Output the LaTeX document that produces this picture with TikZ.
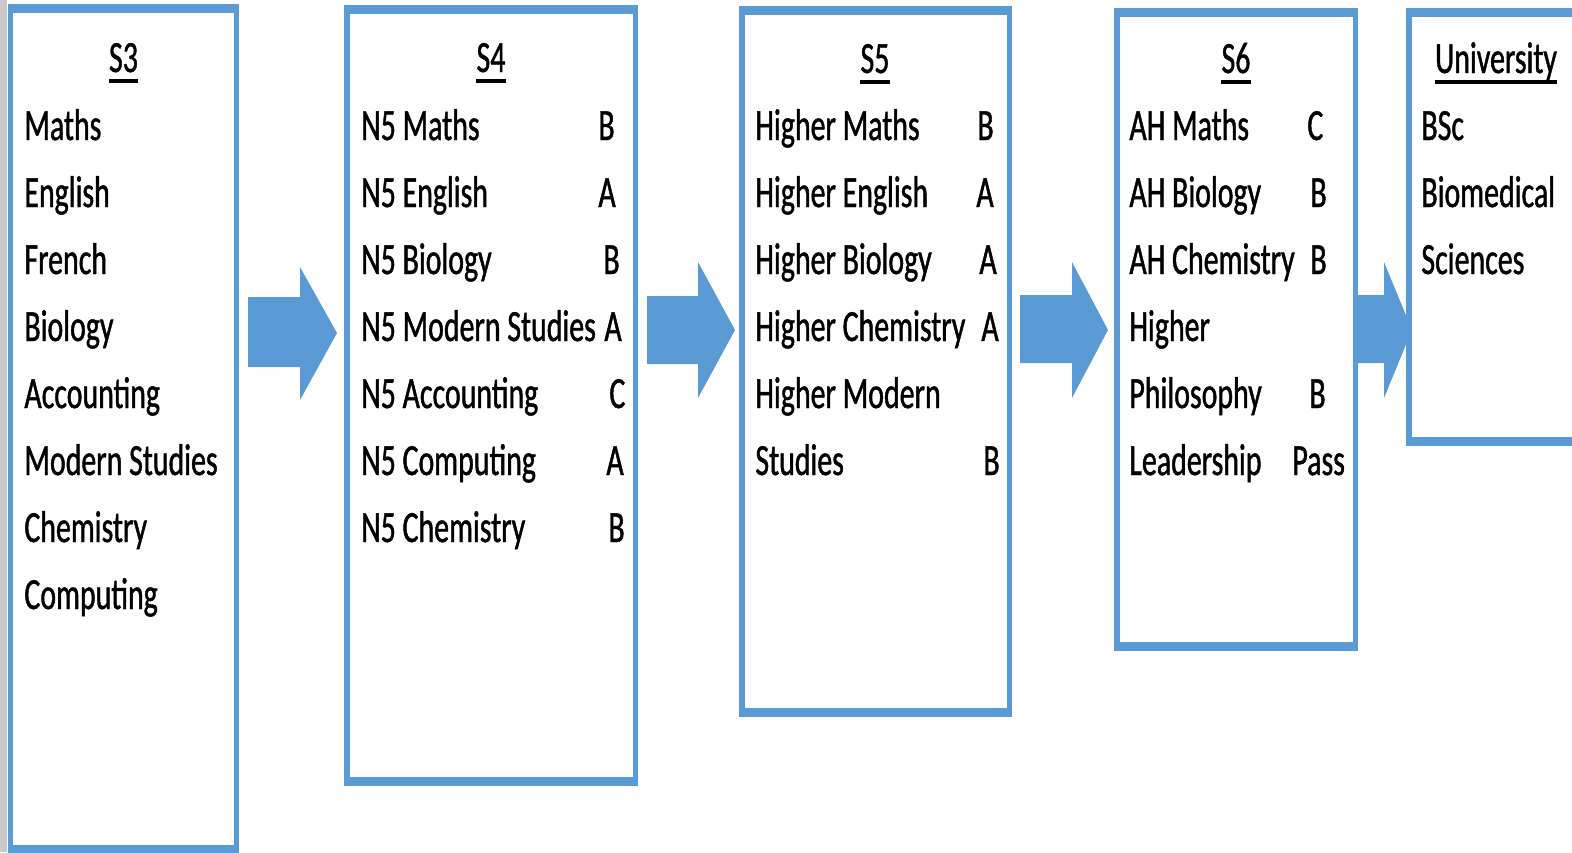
\documentclass[tikz,border=0pt]{standalone}
\usepackage{fontspec}
\setmainfont{Carlito}[FakeStretch=0.67,FakeBold=1]
\definecolor{boxblue}{HTML}{5B9BD5}
\definecolor{stripgray}{HTML}{C8C8C8}
\begin{document}
\begin{tikzpicture}[x=0.5pt,y=-0.5pt,
  txt/.style={anchor=base west,inner sep=0pt,font=\fontsize{22.3pt}{26pt}\selectfont},
  ttl/.style={anchor=base,inner sep=0pt,font=\fontsize{22.3pt}{26pt}\selectfont},
  uline/.style={line width=2pt,black},
  frame/.style={fill=boxblue},
  innerarea/.style={fill=white},
  blockarrow/.style={fill=boxblue}]
\useasboundingbox (0,0) rectangle (1572,852);
\clip (0,0) rectangle (1572,852);
% grey strip at the left edge
\fill[stripgray] (0,0) rectangle (7,852);
% block arrows
\fill[blockarrow] (248,297) -- (300,297) -- (300,267) -- (337,333) -- (300,400) -- (300,367) -- (248,367) -- cycle;
\fill[blockarrow] (647,296) -- (698,296) -- (698,262) -- (735,330) -- (698,398) -- (698,364) -- (647,364) -- cycle;
\fill[blockarrow] (1020,295) -- (1072,295) -- (1072,262) -- (1108,330) -- (1072,398) -- (1072,363) -- (1020,363) -- cycle;
\fill[blockarrow] (1356,295) -- (1384,295) -- (1384,262) -- (1412,330) -- (1384,398) -- (1384,363) -- (1356,363) -- cycle;
% boxes
\fill[frame] (8,4) rectangle (239,856);
\fill[innerarea] (13,13) rectangle (234,845);
\fill[frame] (344,5) rectangle (638,786);
\fill[innerarea] (350,14) rectangle (633,777);
\fill[frame] (739,6) rectangle (1012,717);
\fill[innerarea] (745,15) rectangle (1007,708);
\fill[frame] (1114,8) rectangle (1358,651);
\fill[innerarea] (1120,17) rectangle (1353,642);
\fill[frame] (1406,8) rectangle (1600,446);
\fill[innerarea] (1412,17) rectangle (1594,437);
% titles
\node[ttl] (t3) at (123.5,72) {S3};
\node[ttl] (t4) at (491,72) {S4};
\node[ttl] (t5) at (875,73) {S5};
\node[ttl] (t6) at (1236,73) {S6};
\node[ttl] (tu) at (1496,73) {University};
\foreach \t in {t3,t4,t5,t6,tu}
  \draw[uline] ([yshift=-4.65pt]\t.base west) -- ([yshift=-4.65pt]\t.base east);
% S3
\node[txt] (s3a) at (24,140) {Maths};
\node[txt] (s3b) at (24,207) {English};
\node[txt] (s3c) at (24,274) {French};
\node[txt] (s3d) at (24,341) {Biology};
\node[txt] (s3e) at (24,408) {Accounting};
\node[txt] (s3f) at (24,475) {Modern Studies};
\node[txt] (s3g) at (24,542) {Chemistry};
\node[txt] (s3h) at (24,609) {Computing};
% S4
\node[txt] (s4a) at (361,140) {N5 Maths};
\node[txt] (s4b) at (361,207) {N5 English};
\node[txt] (s4c) at (361,274) {N5 Biology};
\node[txt] (s4d) at (361,341) {N5 Modern Studies};
\node[txt] (s4e) at (361,408) {N5 Accounting};
\node[txt] (s4f) at (361,475) {N5 Computing};
\node[txt] (s4g) at (361,542) {N5 Chemistry};
\node[txt] (g4a) at (598,140) {B};
\node[txt] (g4b) at (598,207) {A};
\node[txt] (g4c) at (603,274) {B};
\node[txt] (g4d) at (604,341) {A};
\node[txt] (g4e) at (609,408) {C};
\node[txt] (g4f) at (606,475) {A};
\node[txt] (g4g) at (608,542) {B};
% S5
\node[txt] (s5a) at (755,140) {Higher Maths};
\node[txt] (s5b) at (755,207) {Higher English};
\node[txt] (s5c) at (755,274) {Higher Biology};
\node[txt] (s5d) at (755,341) {Higher Chemistry};
\node[txt] (s5e) at (755,408) {Higher Modern};
\node[txt] (s5f) at (755,475) {Studies};
\node[txt] (g5a) at (977,140) {B};
\node[txt] (g5b) at (976,207) {A};
\node[txt] (g5c) at (979,274) {A};
\node[txt] (g5d) at (981,341) {A};
\node[txt] (g5f) at (983,475) {B};
% S6
\node[txt] (s6a) at (1129,140) {AH Maths};
\node[txt] (s6b) at (1129,207) {AH Biology};
\node[txt] (s6c) at (1129,274) {AH Chemistry};
\node[txt] (s6d) at (1129,341) {Higher};
\node[txt] (s6e) at (1129,408) {Philosophy};
\node[txt] (s6f) at (1129,475) {Leadership};
\node[txt] (g6a) at (1307,140) {C};
\node[txt] (g6b) at (1310,207) {B};
\node[txt] (g6c) at (1310,274) {B};
\node[txt] (g6e) at (1309,408) {B};
\node[txt] (g6f) at (1292,475) {Pass};
% University
\node[txt] (ua) at (1421,140) {BSc};
\node[txt] (ub) at (1421,207) {Biomedical};
\node[txt] (uc) at (1421,274) {Sciences};
\end{tikzpicture}
\end{document}
